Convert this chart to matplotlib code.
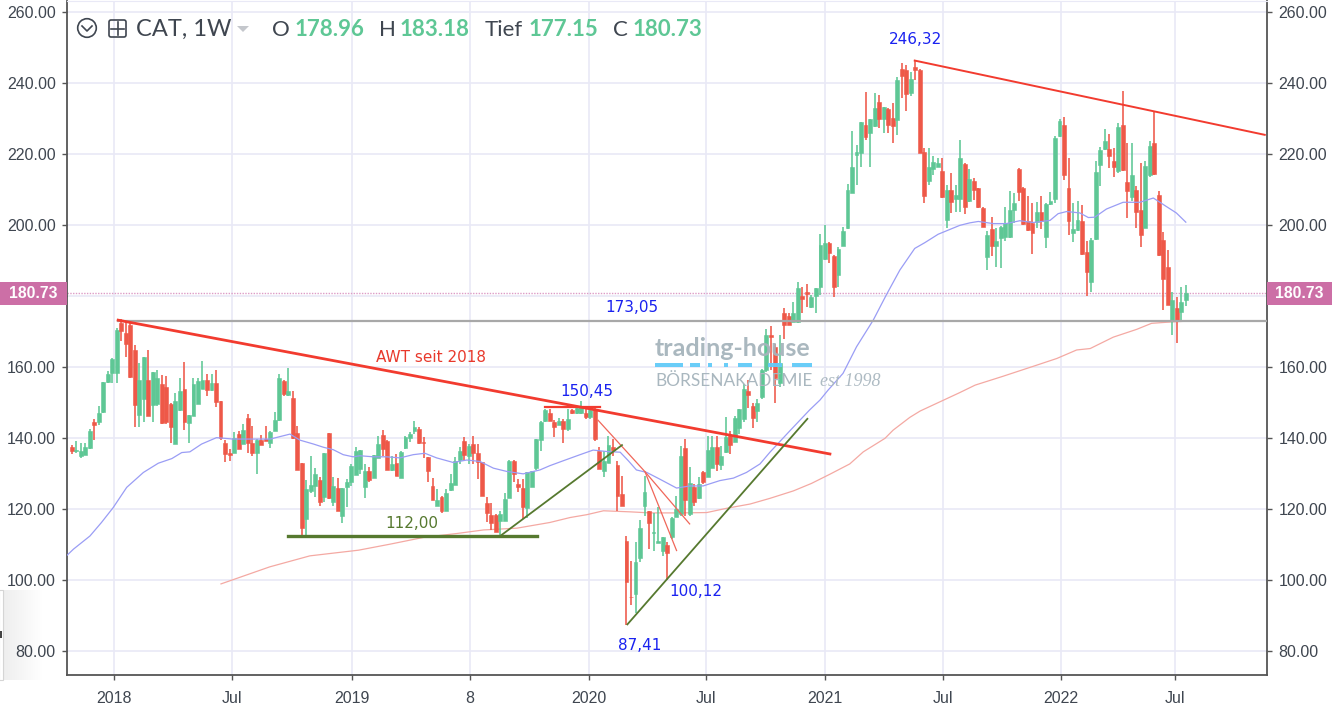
import numpy as np
import matplotlib
matplotlib.use("Agg")
import matplotlib.pyplot as plt
from matplotlib.patches import Circle, FancyBboxPatch, Polygon, Rectangle

# weekly candles, CAT
opens = [137.6,136.2,135.0,135.2,137.3,144.4,144.4,147.4,155.9,158.2,
158.2,172.5,169.5,171.8,164.8,146.6,151.0,156.3,149.3,149.5,
155.1,154.5,149.7,138.2,147.8,153.8,144.2,146.3,149.7,153.8,
156.3,153.5,155.5,150.3,138.5,135.9,135.9,141.0,138.3,145.6,
138.7,135.9,139.5,139.7,138.6,142.0,145.1,156.1,152.1,151.3,
141.4,132.9,117.2,125.2,126.6,128.2,123.3,141.4,121.9,125.9,
118.1,126.1,127.5,129.7,131.3,126.1,130.8,128.7,134.5,140.9,
139.2,131.0,132.9,128.7,137.1,140.0,141.9,142.4,139.0,134.7,
126.5,120.9,123.3,119.3,125.3,126.9,133.8,139.2,135.0,138.3,
135.8,133.3,121.8,118.4,118.4,116.7,116.7,123.1,133.6,127.0,
125.9,120.3,126.3,131.5,139.4,144.9,147.0,144.6,143.7,144.9,
142.4,147.9,147.0,147.1,147.0,145.8,147.9,136.2,130.8,133.0,
137.6,132.5,124.2,111.1,95.3,96.0,106.1,120.9,119.3,113.1,
110.5,108.3,109.9,112.2,117.7,118.6,137.1,118.6,126.1,123.1,
130.3,129.1,131.5,137.6,132.5,136.0,140.7,139.0,142.8,145.3,
153.3,149.1,147.5,151.5,159.2,169.0,165.7,155.4,175.1,174.5,
172.8,172.8,180.0,181.2,176.8,180.0,182.6,190.3,195.0,191.3,
185.9,194.2,199.1,209.1,219.7,220.2,228.2,225.8,227.9,234.6,
229.9,232.6,230.2,229.6,243.9,243.7,237.1,244.4,243.7,220.7,
212.5,215.7,216.4,215.3,201.4,209.9,207.3,207.3,217.3,206.9,
212.5,210.3,204.8,190.9,198.9,194.2,196.3,196.5,196.6,204.1,
215.9,210.4,201.2,200.5,200.8,203.6,196.5,206.0,207.4,225.0,
228.3,210.4,197.7,198.5,201.0,192.5,183.9,196.0,217.0,221.4,
221.5,218.1,215.3,228.3,212.0,208.0,209.9,204.3,199.1,214.2,
223.1,208.5,195.9,188.2,172.9,176.6,175.4,178.96]

closes = [136.4,136.7,136.2,137.6,141.9,143.7,147.0,155.9,158.0,162.2,
170.5,170.2,166.6,157.2,149.3,156.3,162.7,146.3,158.5,156.8,
144.2,144.4,143.2,150.4,153.3,144.6,146.4,155.1,156.1,156.3,
153.5,155.5,150.2,140.0,135.5,135.2,140.1,136.9,142.3,138.6,
135.7,139.5,138.1,139.2,141.6,145.1,156.9,152.4,153.3,140.0,
131.0,114.7,125.6,126.9,129.9,121.9,135.7,123.1,126.5,119.5,
125.9,127.7,132.0,136.4,136.6,130.8,128.2,135.3,138.3,136.9,
131.0,132.7,129.4,136.0,140.2,141.1,143.2,138.5,138.5,130.8,
122.4,122.5,119.3,124.4,127.4,133.6,136.4,135.3,137.8,135.8,
133.1,123.8,118.9,116.0,113.4,118.6,122.7,133.6,130.0,126.3,
120.7,130.5,130.6,139.6,144.4,147.9,144.7,143.2,144.9,142.4,
145.3,147.0,148.5,148.8,145.8,147.9,139.7,131.3,133.6,138.1,
136.7,123.6,120.9,99.3,95.1,105.2,114.6,124.9,116.0,113.6,
110.9,112.0,107.5,117.5,120.0,135.0,122.6,127.3,121.9,127.0,
127.7,136.7,137.6,132.7,135.0,140.2,138.1,145.6,148.2,153.8,
152.2,145.6,149.9,159.2,169.0,168.4,157.0,161.0,171.8,171.8,
175.1,182.2,179.2,180.5,179.6,182.2,194.4,194.8,192.0,182.4,
193.1,198.3,209.9,216.2,220.5,228.9,224.9,229.9,232.9,229.9,
233.3,228.2,227.9,240.8,242.0,236.8,241.0,243.7,220.4,208.3,
216.2,217.7,217.4,207.8,209.9,206.6,208.5,218.9,205.2,212.9,
209.9,205.1,199.4,197.3,194.2,195.4,199.3,200.5,204.3,206.2,
209.2,200.4,198.5,197.7,203.6,201.2,206.0,206.9,224.5,229.2,
214.2,201.0,198.9,201.5,191.9,186.9,195.9,214.9,221.0,223.6,
219.3,216.4,227.5,215.6,209.7,214.2,203.8,197.3,216.7,222.3,
214.4,191.6,184.9,177.6,178.8,172.9,178.3,180.73]

highs = [138.1,139.2,138.5,138.7,142.5,145.3,149.1,155.9,158.9,162.4,
171.0,173.5,173.0,172.5,166.2,161.0,162.7,164.8,158.5,159.2,
157.7,157.5,150.0,152.8,157.0,161.5,146.4,156.8,157.0,161.7,
158.0,158.0,159.2,150.3,139.5,137.0,141.7,142.0,143.9,146.9,
143.4,139.7,140.8,143.4,142.0,147.4,158.0,156.4,159.7,153.3,
143.5,132.9,128.2,135.0,131.5,128.9,135.7,141.4,129.1,128.6,
125.9,128.4,132.7,137.6,136.6,132.7,131.9,135.3,140.7,142.3,
139.4,135.0,135.5,136.4,140.7,141.6,144.9,143.0,140.2,134.7,
128.6,125.6,123.8,125.6,129.9,134.6,137.4,140.2,138.3,140.5,
138.3,133.3,123.5,121.7,118.6,119.5,124.4,133.8,133.8,128.4,
128.4,130.5,130.8,139.6,144.7,148.2,148.2,145.1,145.6,145.3,
148.2,148.2,148.8,150.3,148.2,148.2,148.5,137.6,136.2,140.7,
139.7,133.6,129.4,112.5,105.4,110.6,116.9,129.4,119.5,119.0,
120.7,112.0,110.6,117.7,123.8,137.8,139.7,131.9,127.0,128.9,
130.8,140.7,140.7,140.7,137.8,146.0,142.1,146.3,148.2,155.2,
156.2,150.0,151.0,159.5,170.7,171.5,166.5,169.0,176.5,175.3,
178.4,183.9,182.6,183.3,180.3,182.2,197.4,200.0,195.3,191.6,
193.9,199.5,211.6,226.5,222.5,228.9,237.6,229.9,237.1,236.6,
233.3,232.9,234.3,241.8,245.5,245.1,243.2,246.5,243.9,221.6,
221.8,219.3,218.8,218.8,211.3,214.6,211.3,224.0,217.6,215.8,
213.2,210.3,205.1,198.2,202.2,199.1,199.6,205.1,209.5,209.0,
216.0,210.7,208.3,206.2,206.5,208.1,206.2,209.2,225.0,229.9,
230.4,218.9,206.2,206.9,205.7,195.4,196.3,217.9,222.0,227.0,
225.7,221.7,228.7,237.7,223.1,223.1,210.9,217.5,217.9,223.6,
232.0,209.5,197.9,192.9,181.0,179.7,182.5,183.18]

lows = [135.5,135.9,134.3,135.2,137.0,139.4,143.7,147.0,155.6,155.6,
155.6,167.4,162.9,157.0,143.2,143.2,144.4,146.3,144.6,149.1,
143.9,143.9,138.5,138.2,147.7,142.3,138.6,146.3,149.7,153.8,
151.7,153.3,148.8,139.5,133.1,133.4,135.9,136.9,138.3,135.9,
135.0,130.0,138.1,139.2,137.3,142.0,144.8,151.7,151.9,139.7,
131.0,112.0,112.0,124.4,123.3,120.9,121.9,122.8,120.9,119.3,
116.0,120.7,126.6,129.7,129.9,123.1,127.5,128.7,134.5,135.0,
131.0,130.8,129.4,128.7,136.9,138.8,141.1,138.3,134.4,127.7,
122.4,120.9,118.8,119.3,125.2,126.9,132.7,133.6,132.7,132.7,
128.4,123.8,116.2,114.1,113.4,112.0,116.5,123.1,127.5,124.7,
117.2,117.5,126.1,131.0,136.4,144.4,144.7,140.4,143.7,138.5,
142.1,146.8,146.8,146.8,145.3,145.3,139.2,131.3,129.1,132.9,
135.0,119.3,120.9,87.4,93.0,90.6,105.0,118.1,108.7,108.3,
110.4,106.9,100.12,111.5,117.7,118.1,118.1,118.1,120.9,122.8,
127.0,128.9,131.5,130.6,131.0,135.7,135.5,138.8,141.1,144.4,
148.5,142.7,144.4,151.0,158.5,159.2,150.0,154.5,167.8,171.8,
172.8,172.5,175.1,177.0,176.5,175.3,180.3,190.1,189.2,179.6,
182.4,194.2,198.8,208.9,211.3,216.4,223.9,216.4,227.7,227.4,
225.8,225.8,223.2,225.4,235.7,232.2,236.4,240.8,220.2,206.1,
211.3,214.1,216.4,207.5,199.2,203.3,203.8,203.8,203.2,206.4,
207.1,204.8,199.4,187.4,191.2,188.2,187.9,195.4,196.3,200.5,
206.7,200.1,198.2,191.8,199.1,198.9,193.5,205.7,206.2,224.8,
212.6,197.3,195.2,198.2,191.6,179.9,181.0,195.9,210.9,221.2,
216.0,213.4,214.6,215.1,202.0,206.7,199.1,193.8,199.1,213.5,
214.2,191.4,176.1,177.6,169.1,166.9,172.9,177.15]

# moving averages, (week index, price)
ma_blue_x = [-1,0.4,4.05,6.6,9.2,12.2,15.9,19.2,22.2,24.4,26.2,28.8,32.1,35.8,40.3,44,48.4,
50.6,53.6,55.8,58,60.2,62.4,63.9,66.9,69.8,72.8,75.7,78.3,80.9,84.6,87.6,90.5,93.5,96.4,100.1,
103.8,106,109,112.7,115.6,118.6,121.6,123.4,125.2,127.5,130.4,134.1,137.1,140,143.7,146.7,149.6,152.6,
154.8,159.2,163.6,165.9,167.7,171,174,177.7,180.6,183.6,186.9,189.1,192.1,
196.9,199.1,201,204.3,207.2,210.2,213.2,216.9,218.7,220.6,223.5,225.4,226.8,229.4,233.1,236.8,239.8,242.7,244.9,247]
ma_blue = [107,108.7,112.4,116.2,120.4,126.1,130.3,132.9,134.2,135.9,136.1,138.3,140.1,139.7,139.7,139.7,141.1,
139.4,138.3,137.4,136.7,135.3,134.7,135.0,134.7,134.7,134.4,135.3,135.7,134.4,133.1,133.8,133.4,131.5,130.6,129.9,
131.0,132.2,133.6,135.3,136.6,136.2,136.0,133.6,131.0,130.3,128.4,125.9,126.5,126.5,128.0,128.7,130.3,132.7,
136.0,142.0,147.9,150.7,153.5,158.2,165.7,173.2,180.3,187.3,193.4,195.0,197.4,
199.9,200.6,201.0,200.4,200.4,201.2,200.7,201.3,203.2,203.8,203.4,202.1,202.2,204.5,206.4,206.4,207.6,205.2,203.4,200.8]

ma_red_x = [33.1,43.9,52.8,63.6,70.6,78,85.4,91.3,98.7,106,110.5,114.2,117.9,123.8,128.2,134.9,140.8,145.2,150.4,
154.8,160,164,168.1,172.5,175.5,180.3,182.1,185.8,188.1,192.5,196.9,200.3,206.5,213.9,218.4,222.8,225.8,
230.9,236.1,239.4,242.7,247]
ma_red = [98.9,103.7,106.8,108.4,110.1,112.0,113.1,114.1,114.6,116.2,117.6,118.4,119.5,119.2,118.9,118.9,119.0,120.2,121.4,
123.0,125.1,127.2,129.8,132.7,136.1,139.9,142.2,145.8,147.6,150.2,152.8,154.9,157.4,160.5,162.4,164.8,165.2,
168.4,170.6,172.3,172.6,172.9]

x_ticks = [9.4,35.5,62.1,88.3,114.7,140.6,167,193.2,219.3,244.6]
x_labels = ["2018","Jul","2019","8","2020","Jul","2021","Jul","2022","Jul"]
y_ticks = list(range(80,261,20))
last_price = 180.73

GREEN = "#5ec795"
RED = "#ee5848"
LINE_RED = "#f23b2f"
LINE_GREEN = "#56792f"
BLUE = "#1a22f0"
INK = "#3f4650"
GRID = "#e9e9f6"
PINK = "#cc6fa6"

W, H = 1332, 710
fig = plt.figure(figsize=(W/100, H/100), dpi=100, facecolor="white")
ax = fig.add_axes([67/W, (H-675)/H, 1200/W, 674/H])
ax.set_xlim(-1.04, 265.0)
ax.set_ylim(73.24, 263.1)

ax.set_xticks(x_ticks, x_labels)
# the 180 label sits under the price boxes
ax.set_yticks(y_ticks, ["" if v == 180 else "%.2f" % v for v in y_ticks])
ax.grid(True, color=GRID, lw=1.2, zorder=0)
ax.set_axisbelow(True)
ax.tick_params(axis="both", length=3.6, width=1, color="#555555", labelcolor=INK,
               labelsize=11.5, labelfontfamily="Liberation Sans")
ax.tick_params(axis="x", pad=8)
ax.tick_params(axis="y", labelright=True, right=True, pad=4.5)
for s in ["left", "bottom", "right"]:
    ax.spines[s].set_color("#555555")
    ax.spines[s].set_linewidth(1.3)
ax.spines["top"].set_color(GRID)

opens = np.array(opens)
closes = np.array(closes)
highs = np.array(highs)
lows = np.array(lows)
idx = np.arange(len(opens))
up = closes >= opens
cols = np.where(up, GREEN, RED)

ax.plot(ma_red_x, ma_red, color="#f4a9a3", lw=0.9, zorder=2)
ax.vlines(idx, lows, highs, colors=cols, lw=1.15, zorder=3)
ax.bar(idx, closes-opens, bottom=opens, width=0.86, color=cols, edgecolor=cols, lw=0.4, zorder=4)
ax.plot(ma_blue_x, ma_blue, color="#9a9df5", lw=0.9, zorder=5)

# last price and the drawn lines
ax.axhline(last_price, color="#dd9cc6", lw=1.0, ls=(0, (1, 1)), zorder=1)
ax.plot([10.3,265], [173.05,173.05], color="#a8a8a8", lw=1.6, zorder=6)
ax.plot([10.3,168.1], [173.2,135.5], color=LINE_RED, lw=2.0, zorder=6)
ax.plot([186.9,264.5], [246.32,225.4], color=LINE_RED, lw=1.4, zorder=6)
ax.plot([105,117.1], [148.8,148.8], color=LINE_RED, lw=1.6, zorder=6)
ax.plot([116.7,127.1,134.1], [145,130.5,108.3], color="#f0675a", lw=0.9, zorder=6)
ax.plot([127.1,137], [130.5,115.8], color="#f0675a", lw=0.9, zorder=6)
ax.plot([48,103.1], [112.3,112.3], color=LINE_GREEN, lw=2.4, zorder=6)
ax.plot([94.9,122], [112.3,138], color=LINE_GREEN, lw=1.3, zorder=6)
ax.plot([123.2,163.1], [87.5,145.4], color=LINE_GREEN, lw=1.3, zorder=6)

# overlay in pixel coordinates for the header, labels and watermark
ov = fig.add_axes([0, 0, 1, 1], zorder=10)
ov.set_xlim(0, W)
ov.set_ylim(H, 0)
ov.axis("off")

def txt(x, y, s, **kw):
    kw.setdefault("va", "center")
    return ov.text(x, y, s, **kw)

for x, y, s in [(915,39,"246,32"), (632,308,"173,05"), (587,391,"150,45"),
                (696,592,"100,12"), (640,645,"87,41")]:
    txt(x, y, s, color=BLUE, fontsize=11, ha="center", family="DejaVu Sans")
txt(431, 357, "AWT seit 2018", color="#e8392c", fontsize=11, ha="center", family="DejaVu Sans")
txt(412, 523, "112,00", color=LINE_GREEN, fontsize=11, ha="center", family="DejaVu Sans")

# price boxes either side
for x0, w in [(0, 67), (1267, 65)]:
    ov.add_patch(Rectangle((x0, 282), w, 23, color=PINK, lw=0))
    txt(x0+w/2, 293.5, "180.73", color="white", fontsize=11.3, ha="center",
        family="Liberation Sans", fontweight="bold")

# header
txt(136, 29, "CAT, 1W", color=INK, fontsize=17, family="Lato")
ov.add_patch(Polygon([[237,26],[249,26],[243,32]], color="#c4c7cc", lw=0))
ov.add_patch(Circle((87, 28), 9.3, fill=False, ec=INK, lw=1.2))
ov.plot([82,87,92], [26,31,26], color=INK, lw=1.2)
ov.add_patch(FancyBboxPatch((109,20), 17, 17, boxstyle="round,pad=0,rounding_size=2", fill=False, ec=INK, lw=1.2))
ov.plot([111,124], [28.5,28.5], color=INK, lw=1.2)
ov.plot([117.5,117.5], [22,35], color=INK, lw=1.2)
for x, s in [(272,"O"), (379,"H"), (485,"Tief"), (613,"C")]:
    txt(x, 30, s, color=INK, fontsize=16, family="Lato")
for x, s in [(295,"178.96"), (400,"183.18"), (528.5,"177.15"), (633,"180.73")]:
    txt(x, 30, s, color=GREEN, fontsize=16, family="Lato", fontweight="bold")

# watermark
txt(655, 348, "trading-house", color="#a6b4bc", fontsize=18, family="Lato", fontweight="bold", alpha=0.95)
for x0, x1 in [(655,683),(690,700),(708,712),(724,728),(738,752),(768,782),(792,812)]:
    ov.add_patch(Rectangle((x0,363), x1-x0, 4, color="#62cbf8", lw=0, alpha=0.95))
txt(655, 381, "BÖRSENAKADEMIE", color="#a9b7bf", fontsize=12.4, family="Lato")
txt(820, 381, "est 1998", color="#aebbc3", fontsize=13, family="Liberation Serif", style="italic")

# edge of the side panel bottom left, faint shadow on top of the ticks
shade = np.zeros((1, 50, 4))
shade[0, :, 3] = np.linspace(0.07, 0, 50)
ov.imshow(shade, extent=[3,45,680,590], aspect="auto", zorder=0)
ov.set_xlim(0, W)
ov.set_ylim(H, 0)
ov.add_patch(Rectangle((-1,590), 4, 90, fc="white", ec="#d5d5d5", lw=0.8))
ov.add_patch(Rectangle((0,631), 2, 7, color="#444444", lw=0))

fig.savefig("out.png", dpi=100)
